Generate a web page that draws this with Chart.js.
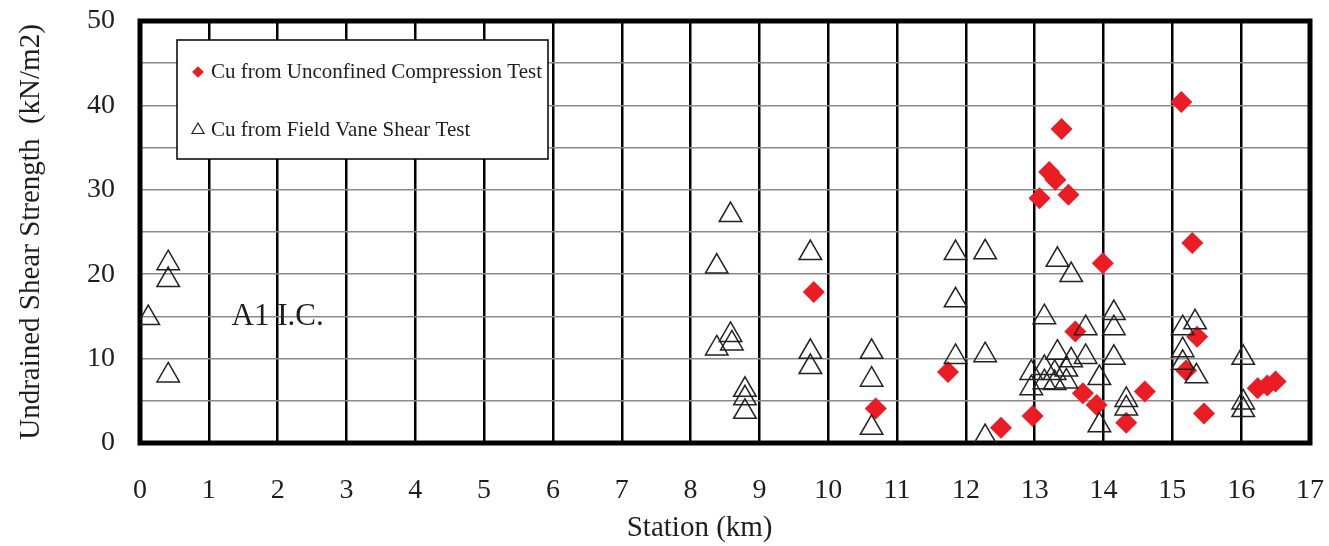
<!DOCTYPE html>
<html>
<head>
<meta charset="utf-8">
<script src="https://cdn.jsdelivr.net/npm/chart.js@4.4.1/dist/chart.umd.min.js"></script>
<style>
  html, body { margin: 0; padding: 0; background: #fff; }
  #wrap { width: 1329px; height: 546px; }
</style>
</head>
<body>
<div id="wrap"><canvas id="chart" width="1329" height="546"></canvas></div>
<script>
// Cu from Unconfined Compression Test (station km, kN/m2)
const ucStation = [9.79, 10.69, 11.74, 12.51, 12.97, 13.07, 13.21, 13.3, 13.39, 13.49, 13.59, 13.7, 13.9,
  13.99, 14.33, 14.6, 15.13, 15.29, 15.36, 15.2, 15.46, 16.24, 16.38, 16.5];
const ucCu = [17.9, 4.1, 8.4, 1.8, 3.2, 29.0, 32.1, 31.2, 37.2, 29.4, 13.2, 5.9, 4.5,
  21.3, 2.4, 6.1, 40.4, 23.7, 12.6, 8.6, 3.5, 6.5, 6.8, 7.3];

// Cu from Field Vane Shear Test
const vaneStation = [0.12, 0.41, 0.41, 0.41, 8.38, 8.58, 8.58, 8.6, 8.38, 8.79, 8.79, 8.79,
  9.74, 9.74, 9.74, 10.63, 10.63, 10.63, 11.85, 11.85, 11.85, 12.28, 12.28, 12.28,
  12.95, 12.95, 13.14, 13.14, 13.14, 13.29, 13.29, 13.33, 13.33, 13.46, 13.46, 13.53, 13.53,
  13.74, 13.74, 13.94, 13.94, 14.15, 14.15, 14.15, 14.33, 14.33,
  15.15, 15.33, 15.15, 15.15, 15.35, 16.03, 16.03, 16.03];
const vaneCu = [14.8, 21.3, 19.3, 8.0, 20.9, 27.0, 12.8, 11.8, 11.2, 6.3, 5.3, 3.7,
  22.5, 10.8, 9.0, 10.8, 7.5, 1.8, 22.5, 16.9, 10.2, 22.6, 10.4, 0.7,
  8.3, 6.5, 14.9, 8.9, 7.2, 8.3, 7.1, 21.7, 10.7, 8.7, 7.3, 19.9, 9.8,
  13.6, 10.2, 7.7, 2.1, 15.4, 13.6, 10.1, 5.1, 4.1,
  13.6, 14.3, 11.0, 9.5, 7.9, 10.1, 4.8, 3.9];

const seriesNames = ['Cu from Unconfined Compression Test', 'Cu from Field Vane Shear Test'];
const noteText = 'A1 I.C.';
const notePos = [2.0, 15];

const serif = 'Liberation Serif, Times New Roman, serif';
const ink = '#1e1e1e';

const toPoints = (xs, ys) => xs.map((x, i) => ({ x: x, y: ys[i] }));

// thick frame, "A1 I.C." note and the boxed legend
const extras = {
  id: 'extras',
  beforeDatasetsDraw(chart) {
    const { ctx, chartArea: a, scales } = chart;
    ctx.save();
    ctx.strokeStyle = '#000';
    ctx.lineWidth = 5;
    ctx.strokeRect(a.left, a.top, a.right - a.left, a.bottom - a.top);
    ctx.fillStyle = ink;
    ctx.font = '31px ' + serif;
    ctx.textAlign = 'center';
    ctx.textBaseline = 'middle';
    ctx.fillText(noteText, scales.x.getPixelForValue(notePos[0]), scales.y.getPixelForValue(notePos[1]));
    ctx.restore();
  },
  afterDatasetsDraw(chart) {
    const { ctx } = chart;
    const box = { x: 177, y: 40, w: 371, h: 119 };
    ctx.save();
    ctx.fillStyle = '#fff';
    ctx.fillRect(box.x, box.y, box.w, box.h);
    ctx.strokeStyle = '#000';
    ctx.lineWidth = 1.5;
    ctx.strokeRect(box.x, box.y, box.w, box.h);
    ctx.font = '21px ' + serif;
    ctx.textBaseline = 'middle';
    chart.data.datasets.forEach((ds, i) => {
      const y = box.y + 32 + i * 58;
      ctx.fillStyle = i === 0 ? ds.backgroundColor : 'rgba(0,0,0,0)';
      ctx.strokeStyle = i === 0 ? ds.backgroundColor : ds.borderColor;
      ctx.lineWidth = 1.2;
      Chart.helpers.drawPoint(ctx, {
        pointStyle: ds.pointStyle,
        radius: i === 0 ? 5 : 7,
        rotation: 0,
        borderWidth: 1.2
      }, box.x + 21, y);
      ctx.fillStyle = ink;
      ctx.fillText(ds.label, box.x + 34, y);
    });
    ctx.restore();
  }
};

new Chart(document.getElementById('chart'), {
  type: 'scatter',
  data: {
    datasets: [
      {
        label: seriesNames[0],
        data: toPoints(ucStation, ucCu),
        pointStyle: 'rectRot',
        pointRadius: 11,
        backgroundColor: '#ec1c24',
        borderColor: '#ec1c24',
        borderWidth: 0,
        order: 1
      },
      {
        label: seriesNames[1],
        data: toPoints(vaneStation, vaneCu),
        pointStyle: 'triangle',
        pointRadius: 13,
        backgroundColor: 'rgba(0,0,0,0)',
        borderColor: '#222',
        borderWidth: 1.5,
        order: 0
      }
    ]
  },
  options: {
    responsive: false,
    animation: false,
    layout: { padding: { top: 21, right: 19, bottom: 0, left: 0 } },
    plugins: { legend: { display: false }, tooltip: { enabled: false } },
    scales: {
      x: {
        type: 'linear',
        min: 0,
        max: 17,
        afterFit: (s) => { s.height = 103; },
        ticks: { stepSize: 1, color: ink, padding: 0, font: { family: serif, size: 28 } },
        grid: { color: '#000', lineWidth: 2.5, drawTicks: true, tickLength: 31, tickColor: 'rgba(0,0,0,0)' },
        border: { display: false },
        // trailing spaces nudge the title a little left of centre, as in the original
        title: { display: true, text: 'Station (km)       ', color: ink, padding: { top: 2, bottom: 0 }, font: { family: serif, size: 29 } }
      },
      y: {
        min: 0,
        max: 50,
        afterFit: (s) => { s.width = 140; },
        ticks: {
          stepSize: 5,
          color: ink,
          padding: 0,
          font: { family: serif, size: 28 },
          callback: (v) => (v % 10 === 0 ? v : '')
        },
        grid: { color: '#8a8a8a', lineWidth: 1.5, drawTicks: true, tickLength: 25, tickColor: 'rgba(0,0,0,0)' },
        border: { display: false },
        title: { display: true, text: 'Undrained Shear Strength  (kN/m2)', color: ink, padding: { top: 14, bottom: 0 }, font: { family: serif, size: 29 } }
      }
    }
  },
  plugins: [extras]
});
</script>
</body>
</html>
